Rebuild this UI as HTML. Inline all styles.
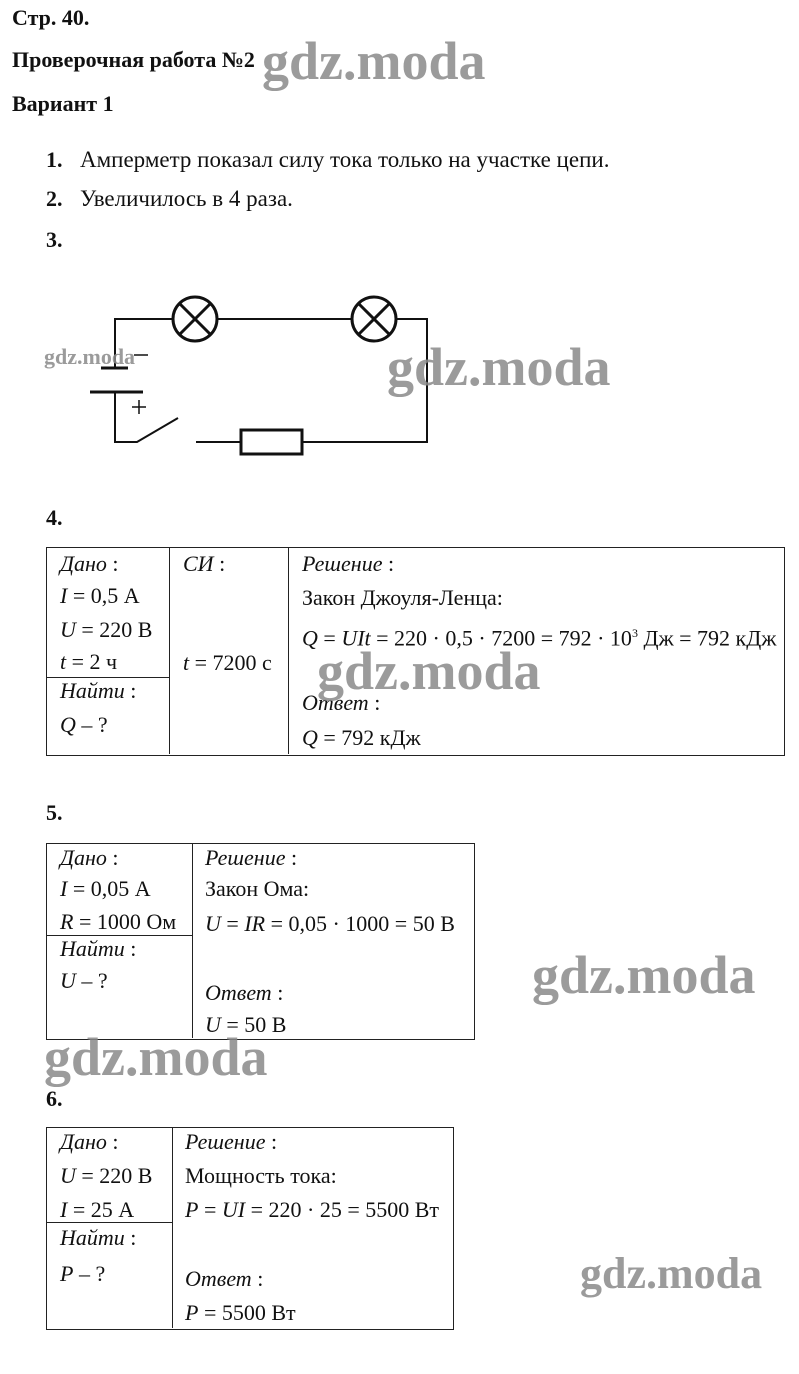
<!DOCTYPE html>
<html><head><meta charset="utf-8"><style>
body{margin:0;width:799px;height:1374px;background:#fff;position:relative;overflow:hidden;font-family:"Liberation Serif",serif;color:#111}
.t{position:absolute;font-size:22px;line-height:26px;white-space:nowrap}
.l{font-size:23px}
.b{font-weight:bold;font-size:22px}
i{font-style:italic}
.box{position:absolute;border:1px solid #222}
.v{position:absolute;width:0;border-left:1px solid #222}
.h{position:absolute;height:0;border-top:1px solid #222}
.wm{position:absolute;font-family:"Liberation Serif",serif;font-weight:bold;color:#8a8a8a;white-space:nowrap;opacity:.85;line-height:1}
</style></head><body>
<div class="t b" style="left:12px;top:5px">Стр. 40.</div>
<div class="t b" style="left:12px;top:47px">Проверочная работа №2</div>
<div class="t b" style="left:12px;top:91px">Вариант 1</div>
<div class="wm" style="left:262px;top:34px;font-size:54px">gdz.moda</div>

<div class="t b" style="left:46px;top:147px">1.</div><div class="t l" style="left:80px;top:147px">Амперметр показал силу тока только на участке цепи.</div>
<div class="t b" style="left:46px;top:186px">2.</div><div class="t l" style="left:80px;top:186px">Увеличилось в 4 раза.</div>
<div class="t b" style="left:46px;top:227px">3.</div>

<svg style="position:absolute;left:0;top:0" width="799" height="480">
<g stroke="#111" stroke-width="2" fill="none">
<polyline points="115,368 115,319 173,319"/>
<line x1="217" y1="319" x2="352" y2="319"/>
<polyline points="396,319 427,319 427,442 302,442"/>
<line x1="241" y1="442" x2="196" y2="442"/>
<circle cx="195" cy="319" r="22" stroke-width="3"/>
<circle cx="374" cy="319" r="22" stroke-width="3"/>
<line x1="180" y1="304" x2="210" y2="334" stroke-width="3"/><line x1="210" y1="304" x2="180" y2="334" stroke-width="3"/>
<line x1="359" y1="304" x2="389" y2="334" stroke-width="3"/><line x1="389" y1="304" x2="359" y2="334" stroke-width="3"/>
<line x1="101" y1="368" x2="128" y2="368" stroke-width="3"/>
<line x1="90" y1="392" x2="143" y2="392" stroke-width="3"/>
<polyline points="115,392 115,442 137,442 178,418"/>
<rect x="241" y="430" width="61" height="24" stroke-width="3"/>
<line x1="134" y1="355" x2="148" y2="355" stroke-width="1.5"/>
<line x1="132" y1="407" x2="146" y2="407" stroke-width="1.5"/><line x1="139" y1="400" x2="139" y2="414" stroke-width="1.5"/>
</g></svg>
<div class="wm" style="left:44px;top:346px;font-size:22px">gdz.moda</div>
<div class="wm" style="left:387px;top:340px;font-size:54px">gdz.moda</div>

<div class="t b" style="left:46px;top:505px">4.</div>
<div class="box" style="left:46px;top:547px;width:737px;height:207px"></div>
<div class="v" style="left:169px;top:547px;height:207px"></div>
<div class="v" style="left:288px;top:547px;height:207px"></div>
<div class="h" style="left:46px;top:677px;width:123px"></div>
<div class="t" style="left:60px;top:551px"><i>Дано</i> :</div>
<div class="t" style="left:60px;top:583px"><i>I</i> = 0,5 А</div>
<div class="t" style="left:60px;top:617px"><i>U</i> = 220 В</div>
<div class="t" style="left:60px;top:649px"><i>t</i> = 2 ч</div>
<div class="t" style="left:60px;top:678px"><i>Найти</i> :</div>
<div class="t" style="left:60px;top:712px"><i>Q</i> – ?</div>
<div class="t" style="left:183px;top:551px"><i>СИ</i> :</div>
<div class="t" style="left:183px;top:650px"><i>t</i> = 7200 с</div>
<div class="t" style="left:302px;top:551px"><i>Решение</i> :</div>
<div class="t" style="left:302px;top:585px">Закон Джоуля-Ленца:</div>
<div class="t" style="left:302px;top:620px"><i>Q</i> = <i>UIt</i> = 220 · 0,5 · 7200 = 792 · 10<sup style="font-size:12px">3</sup> Дж = 792 кДж</div>
<div class="t" style="left:302px;top:690px"><i>Ответ</i> :</div>
<div class="t" style="left:302px;top:725px"><i>Q</i> = 792 кДж</div>
<div class="wm" style="left:317px;top:644px;font-size:54px">gdz.moda</div>

<div class="t b" style="left:46px;top:800px">5.</div>
<div class="box" style="left:46px;top:843px;width:427px;height:195px"></div>
<div class="v" style="left:192px;top:843px;height:195px"></div>
<div class="h" style="left:46px;top:935px;width:146px"></div>
<div class="t" style="left:60px;top:845px"><i>Дано</i> :</div>
<div class="t" style="left:60px;top:876px"><i>I</i> = 0,05 А</div>
<div class="t" style="left:60px;top:909px"><i>R</i> = 1000 Ом</div>
<div class="t" style="left:60px;top:936px"><i>Найти</i> :</div>
<div class="t" style="left:60px;top:968px"><i>U</i> – ?</div>
<div class="t" style="left:205px;top:845px"><i>Решение</i> :</div>
<div class="t" style="left:205px;top:876px">Закон Ома:</div>
<div class="t" style="left:205px;top:911px"><i>U</i> = <i>IR</i> = 0,05 · 1000 = 50 В</div>
<div class="t" style="left:205px;top:980px"><i>Ответ</i> :</div>
<div class="t" style="left:205px;top:1012px"><i>U</i> = 50 В</div>
<div class="wm" style="left:532px;top:948px;font-size:54px">gdz.moda</div>
<div class="wm" style="left:44px;top:1030px;font-size:54px">gdz.moda</div>

<div class="t b" style="left:46px;top:1086px">6.</div>
<div class="box" style="left:46px;top:1127px;width:406px;height:201px"></div>
<div class="v" style="left:172px;top:1127px;height:201px"></div>
<div class="h" style="left:46px;top:1222px;width:126px"></div>
<div class="t" style="left:60px;top:1129px"><i>Дано</i> :</div>
<div class="t" style="left:60px;top:1163px"><i>U</i> = 220 В</div>
<div class="t" style="left:60px;top:1197px"><i>I</i> = 25 А</div>
<div class="t" style="left:60px;top:1225px"><i>Найти</i> :</div>
<div class="t" style="left:60px;top:1261px"><i>P</i> – ?</div>
<div class="t" style="left:185px;top:1129px"><i>Решение</i> :</div>
<div class="t" style="left:185px;top:1163px">Мощность тока:</div>
<div class="t" style="left:185px;top:1197px"><i>P</i> = <i>UI</i> = 220 · 25 = 5500 Вт</div>
<div class="t" style="left:185px;top:1266px"><i>Ответ</i> :</div>
<div class="t" style="left:185px;top:1300px"><i>P</i> = 5500 Вт</div>
<div class="wm" style="left:580px;top:1252px;font-size:44px">gdz.moda</div>
</body></html>
